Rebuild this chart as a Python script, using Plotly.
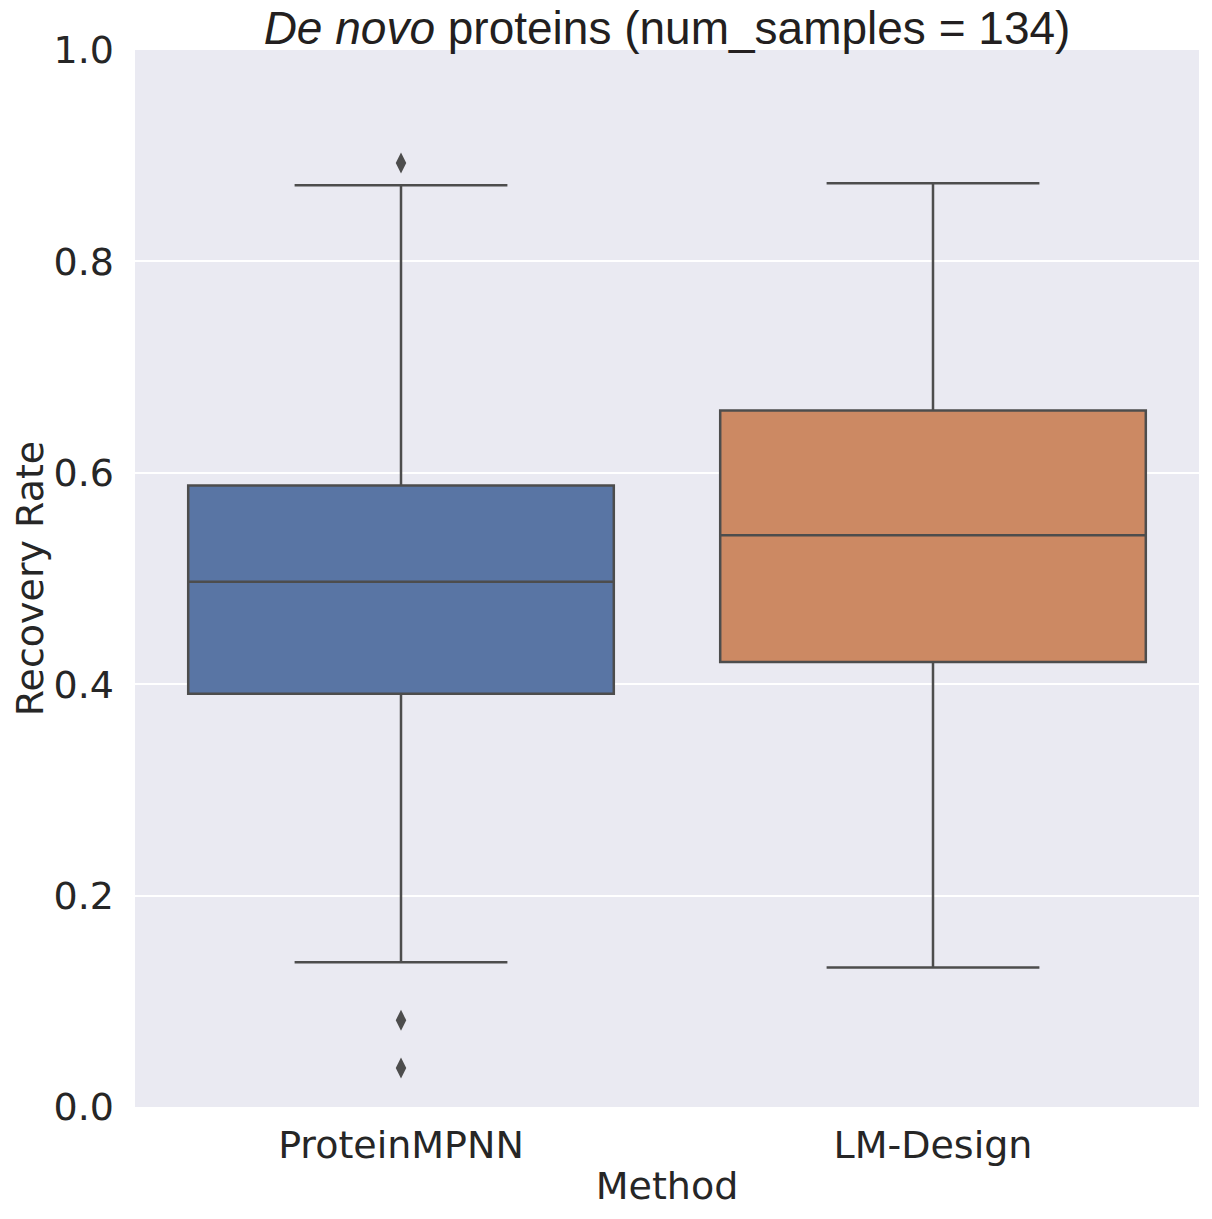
import plotly.graph_objects as go

# box statistics (seaborn-style boxplot)
metodos = ["ProteinMPNN", "LM-Design"]
q1 = [0.391, 0.421]
medianas = [0.497, 0.541]
q3 = [0.588, 0.659]
bigote_inf = [0.137, 0.132]
bigote_sup = [0.872, 0.874]
colores = ["#5975a4", "#cc8963"]

# outliers (only ProteinMPNN has them)
outlier_metodo = ["ProteinMPNN", "ProteinMPNN", "ProteinMPNN"]
outlier_valor = [0.893, 0.082, 0.037]

gris = "#4d4d4d"

fig = go.Figure()

for i, m in enumerate(metodos):
    fig.add_trace(go.Box(
        x=[m], q1=[q1[i]], median=[medianas[i]], q3=[q3[i]],
        lowerfence=[bigote_inf[i]], upperfence=[bigote_sup[i]],
        fillcolor=colores[i], line=dict(color=gris, width=2.5),
        width=0.8, whiskerwidth=0.5, boxpoints=False,
        showlegend=False, hoverinfo="skip",
    ))

fig.add_trace(go.Scatter(
    x=outlier_metodo, y=outlier_valor, mode="markers",
    marker=dict(symbol="diamond-tall", size=15, color=gris),
    showlegend=False,
))

# la pagina tiene 8px de margen en el body, se descuenta aqui
fig.update_layout(
    width=1212, height=1219,
    margin=dict(l=127, r=21, t=42, b=120),
    paper_bgcolor="white",
    plot_bgcolor="#eaeaf2",
    font=dict(family="DejaVu Sans", size=38, color="#262626"),
    title=dict(
        text="<i>De novo</i> proteins (num_samples = 134)",
        font=dict(family="Liberation Sans", size=46, color="#231f20"),
        x=(667 - 8) / 1212, xanchor="center",
        y=1 - 20 / 1219, yanchor="middle",
    ),
    boxmode="overlay",
)

fig.update_xaxes(
    type="category", categoryorder="array", categoryarray=metodos,
    range=[-0.5, 1.5], showgrid=False, zeroline=False,
    title=dict(text="Method", standoff=6, font=dict(size=38)),
    ticks="", ticklabelstandoff=12,
)
fig.update_yaxes(
    range=[0, 1.0], tickvals=[0, 0.2, 0.4, 0.6, 0.8, 1.0],
    ticktext=["0.0", "0.2", "0.4", "0.6", "0.8", "1.0"],
    gridcolor="white", gridwidth=2, zeroline=False,
    title=dict(text="Recovery Rate", standoff=6, font=dict(size=38)),
    ticks="", ticklabelstandoff=20,
)

fig.write_html("out.html")
